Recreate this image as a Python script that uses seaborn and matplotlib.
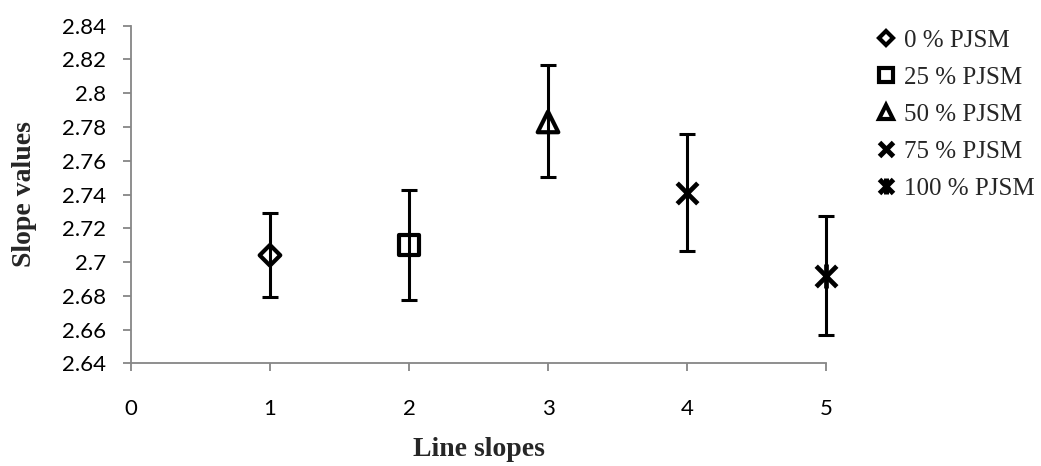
import numpy as np
import pandas as pd
import matplotlib
matplotlib.use("Agg")
import matplotlib.pyplot as plt
from matplotlib.lines import Line2D
from matplotlib.legend_handler import HandlerTuple
import seaborn as sns

series = ["0 % PJSM", "25 % PJSM", "50 % PJSM", "75 % PJSM", "100 % PJSM"]
x_pos = [1, 2, 3, 4, 5]
slope = [2.704, 2.710, 2.783, 2.741, 2.692]
err_low = [2.6795, 2.6775, 2.7505, 2.7065, 2.6567]
err_high = [2.729, 2.7425, 2.8165, 2.776, 2.727]
y_ticks = [2.64, 2.66, 2.68, 2.70, 2.72, 2.74, 2.76, 2.78, 2.80, 2.82, 2.84]
y_tick_labels = ["2.64", "2.66", "2.68", "2.7", "2.72", "2.74", "2.76", "2.78", "2.8", "2.82", "2.84"]
x_ticks = [0, 1, 2, 3, 4, 5]

df = pd.DataFrame({"series": series, "x": x_pos, "y": slope,
                   "lo": err_low, "hi": err_high})

sns.set_theme(style="white")
plt.rcParams["font.family"] = ["Lato", "DejaVu Sans"]

# each series: list of (marker, filled?) layers; the "star" is an x plus a bar
markers = {"0 % PJSM": [("D", True)], "25 % PJSM": [("s", True)],
           "50 % PJSM": [("^", True)], "75 % PJSM": [("x", False)],
           "100 % PJSM": [("x", False), ("|", False)]}
sizes = {"0 % PJSM": 110, "25 % PJSM": 200, "50 % PJSM": 220,
         "75 % PJSM": 220, "100 % PJSM": 220}
lsizes = {"0 % PJSM": 8, "25 % PJSM": 10.5, "50 % PJSM": 10.5,
          "75 % PJSM": 10.5, "100 % PJSM": 10.5}

fig = plt.figure(figsize=(10.41, 4.66), dpi=100)
ax = fig.add_axes([0.1258, 0.2204, 0.6677, 0.7244])

eb = ax.errorbar(df["x"], df["y"],
                 yerr=[df["y"] - df["lo"], df["hi"] - df["y"]],
                 fmt="none", ecolor="black", elinewidth=2.2, capsize=6,
                 capthick=2.2, zorder=2)
for art in eb.lines[1] + eb.lines[2]:
    art.set_clip_on(False)

for s in series:
    sub = df[df["series"] == s]
    for m, filled in markers[s]:
        if filled:
            sns.scatterplot(data=sub, x="x", y="y", marker=m, s=sizes[s],
                            facecolor="none", edgecolor="black", linewidth=3,
                            ax=ax, zorder=3, legend=False)
        else:
            sz = sizes[s] * (1.3 if m == "|" else 1.0)
            sns.scatterplot(data=sub, x="x", y="y", marker=m, s=sz,
                            color="black", linewidth=3.4, ax=ax, zorder=3,
                            legend=False)
for coll in ax.collections:
    coll.set_clip_on(False)

ax.set_xlim(0, 5)
ax.set_ylim(2.64, 2.84)
ax.set_xticks(x_ticks)
ax.set_xticklabels([str(t) for t in x_ticks])
ax.set_yticks(y_ticks)
ax.set_yticklabels(y_tick_labels)
ax.tick_params(axis="both", which="both", direction="out", length=6, width=1.3,
               color="#868686", labelsize=16, labelcolor="black", pad=12,
               bottom=True, left=True)
ax.tick_params(axis="x", pad=20)
for sp in ["top", "right"]:
    ax.spines[sp].set_visible(False)
for sp in ["left", "bottom"]:
    ax.spines[sp].set_color("#868686")
    ax.spines[sp].set_linewidth(1.3)

ax.set_xlabel("Line slopes", fontfamily="Liberation Serif", fontweight="bold",
              fontsize=20, labelpad=13)
ax.set_ylabel("Slope values", fontfamily="Liberation Serif", fontweight="bold",
              fontsize=20, labelpad=18)

handles = []
for s in series:
    layers = []
    for m, filled in markers[s]:
        if filled:
            h = Line2D([], [], linestyle="none", marker=m, markersize=lsizes[s] * 0.9,
                       markerfacecolor="none", markeredgecolor="black",
                       markeredgewidth=3)
        else:
            ms = lsizes[s] * (1.15 if m == "|" else 0.9)
            h = Line2D([], [], linestyle="none", marker=m, markersize=ms,
                       color="black", markeredgewidth=3.6)
        layers.append(h)
    handles.append(tuple(layers))
leg = fig.legend(handles, series, loc="upper left", bbox_to_anchor=(0.842, 0.937),
                 frameon=False, handlelength=0.75, handletextpad=0.35,
                 labelspacing=0.58, borderaxespad=0, borderpad=0,
                 handler_map={tuple: HandlerTuple(ndivide=1, pad=0)},
                 prop={"family": "Liberation Serif", "size": 18})

fig.savefig("out.png", dpi=100)
